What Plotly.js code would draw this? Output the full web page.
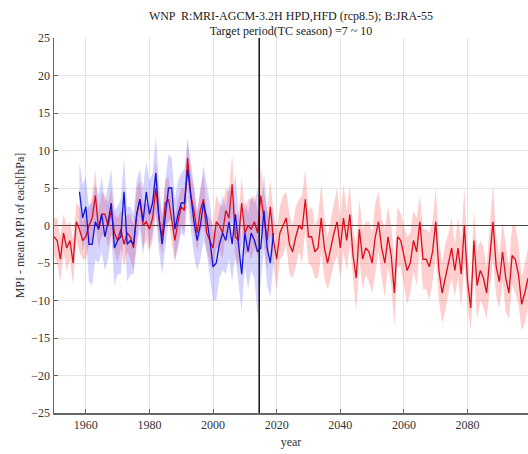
<!DOCTYPE html>
<html>
<head>
<meta charset="utf-8">
<script src="https://cdn.plot.ly/plotly-3.0.1.min.js"></script>
<style>
html,body{margin:0;padding:0;background:#fff;}
#chart{width:528px;height:454px;}
</style>
</head>
<body>
<div id="chart"></div>
<script>
// ---- data ----
const redStartYear = 1950;
const redValues = [
 -1.5,-2,-4.5,-1,-3,-2,-5,0.5,-0.5,-2,
 -1.5,0,1,4,-0.5,1.5,1.5,0,2,-1,
 -2,-0.5,-2.5,-1,-1.5,-3,1.5,3.5,0,0.5,
 -0.5,1,5,1,-1.5,3,3.5,0.5,-2,0.5,
 2.5,2,9,4,2,-1,2,3.5,-1,-2,
 -3,0.5,0,-1,2,1,5.5,-1.5,-2,3,
 -1,0,-0.5,0.5,-1,4,1,-2,2.5,-2,
 -4.5,-1,0,1,-2.5,-3.5,-1.5,0,-0.5,3.5,
 -1.5,-1.5,-3.5,-3,1,-3,-5,-3,-1,0.5,
 -3,1,-2,1.5,-4,-7,-0.5,-4.5,-3,-3.5,
 -5,-1.5,0.5,-3,-5,-1.5,-4,-9,-1.5,-2,
 -4,-6,-5,-2,-3.5,0.5,-4.5,-4.5,-5.5,-3.5,
 0.5,-6,-9,-7,-5,-3,-6,-3,-6.5,0,
 -7.5,-11,-2,-8,-6,-7,-9,-4,0.5,-5.5,
 -7.5,-3.5,-7,-9,-4,-4.5,-6.5,-10.5,-9,-7
];
const redSpread = [
 2.5,3,3,2.5,3,2.5,3,2.5,3,2.5, 3,2.5,3,3.5,2.5,3,2.5,3,3,2.5,
 3,2.5,3,2.5,3,3,3.5,2.5,3,2.5, 3,3,3.5,3,2.5,3,3,2.5,3,3,
 2.5,3,2.5,3,3,2.5,3,3.5,2.5,3,
 3,3.5,3,3.5,3,3.5,4,3,3.5,3.5, 3,3.5,4,3.5,3,4,3.5,4,3.5,3.5,
 4,3.5,4,3.5,4,3.5,4,3.5,4.5,4, 3.5,4,3.5,4,4.5,4,3.5,4,4,4.5,
 4,4.5,4,4,3.5,4.5,4,4,3.5,4,
 4,4.5,4,4,4.5,4,4,4.5,4,3.5, 4,4.5,4,4,4.5,3.5,4,4,4.5,4,
 4.5,4,4,4.5,4,4,3.5,4,4.5,5, 3.5,3,4,4.5,4,4,3.5,4,5,4,
 3.5,4,4.5,3.5,4,4.5,4,3.5,4,4
];
const blueStartYear = 1958;
const blueValues = [
 4.5,1,2.5,-2.5,-2.5,0.5,-0.5,1.5,-1.5,0.5,
 3,-3,-2,-1.5,4.5,-2.5,-2,-2.5,1.5,3.5,
 0.5,4.5,1.5,3,7,1,-2.5,1.5,5,5,
 -0.5,1.5,3,3,7.5,4,0.5,-2,0,3,
 1,-2,-5.5,-5,-2.5,-1,-2,0.5,-2.5,1.5,
 -3,-6.5,-1,-3.5,-1,-2,-3.5,-3,2,-3,
 -5,-1
];
const blueSpread = [
 4,4.5,4,5,5.5,5,4.5,5,4.5,5, 4.5,5,4.5,5,4.5,5,4.5,4,4.5,4,
 4.5,4,4.5,4,5,4.5,4,4.5,4.5,4, 4,4.5,4,4.5,4,4.5,4.5,4,4.5,5,
 4.5,5,4.5,5,4.5,5,4.5,5,5,5.5, 5,5,4.5,5,5,5,8.5,4.5,5,5,
 4.5,4
];
const refYear = 2014.5;
const xTicks = [1960,1980,2000,2020,2040,2060,2080];
const yTicks = [-25,-20,-15,-10,-5,0,5,10,15,20,25];

// ---- build ----
const redYears = redValues.map((_, i) => redStartYear + i);
const blueYears = blueValues.map((_, i) => blueStartYear + i);
const redHi = redValues.map((v, i) => v + redSpread[i]);
const redLo = redValues.map((v, i) => v - redSpread[i]);
const blueHi = blueValues.map((v, i) => v + blueSpread[i]);
const blueLo = blueValues.map((v, i) => v - blueSpread[i]);

const serif = '"Liberation Serif", "Times New Roman", Times, serif';

const traces = [
  {x: redYears, y: redLo, mode: 'lines', line: {width: 0}, showlegend: false, hoverinfo: 'skip'},
  {x: redYears, y: redHi, mode: 'lines', line: {width: 0}, fill: 'tonexty',
   fillcolor: 'rgba(255,60,60,0.25)', showlegend: false, hoverinfo: 'skip'},
  {x: blueYears, y: blueLo, mode: 'lines', line: {width: 0}, showlegend: false, hoverinfo: 'skip'},
  {x: blueYears, y: blueHi, mode: 'lines', line: {width: 0}, fill: 'tonexty',
   fillcolor: 'rgba(60,60,255,0.22)', showlegend: false, hoverinfo: 'skip'},
  {x: redYears, y: redValues, mode: 'lines', line: {color: 'rgb(215,15,30)', width: 1.3}, showlegend: false},
  {x: blueYears, y: blueValues, mode: 'lines', line: {color: 'rgb(20,20,215)', width: 1.3}, showlegend: false}
];

const layout = {
  width: 528, height: 454,
  margin: {l: 54, r: 0, t: 38, b: 41, pad: 0},
  paper_bgcolor: '#fff', plot_bgcolor: '#fff',
  font: {family: serif, size: 12, color: '#333'},
  showlegend: false,
  title: {
    text: 'WNP  R:MRI-AGCM-3.2H HPD,HFD (rcp8.5); B:JRA-55<br>Target period(TC season) =7 ~ 10',
    font: {family: serif, size: 12, color: '#222'},
    x: 0.5, xref: 'paper', xanchor: 'center',
    y: 0.957, yref: 'container', yanchor: 'top'
  },
  xaxis: {
    range: [1950, 2099], tickvals: xTicks, ticks: 'inside', ticklen: 4, tickcolor: '#666',
    showline: true, linecolor: '#666', linewidth: 1.5,
    showgrid: true, gridcolor: '#e4e4e4', gridwidth: 1, zeroline: false,
    tickfont: {family: serif, size: 12, color: '#333'},
    title: {text: 'year', font: {family: serif, size: 12, color: '#333'}, standoff: 6}
  },
  yaxis: {
    range: [-25, 25], tickvals: yTicks, ticks: 'inside', ticklen: 4, tickcolor: '#666',
    showline: true, linecolor: '#666', linewidth: 1.5,
    showgrid: true, gridcolor: '#e4e4e4', gridwidth: 1,
    zeroline: true, zerolinecolor: '#444', zerolinewidth: 1.5,
    tickfont: {family: serif, size: 12, color: '#333'},
    title: {text: 'MPI - mean MPI of each[hPa]', font: {family: serif, size: 12, color: '#333'}, standoff: 4}
  },
  shapes: [
    {type: 'line', xref: 'x', yref: 'paper', x0: refYear, x1: refYear, y0: 0, y1: 1,
     line: {color: '#111', width: 1.5}}
  ]
};

Plotly.newPlot('chart', traces, layout, {displayModeBar: false, staticPlot: true});
</script>
</body>
</html>
